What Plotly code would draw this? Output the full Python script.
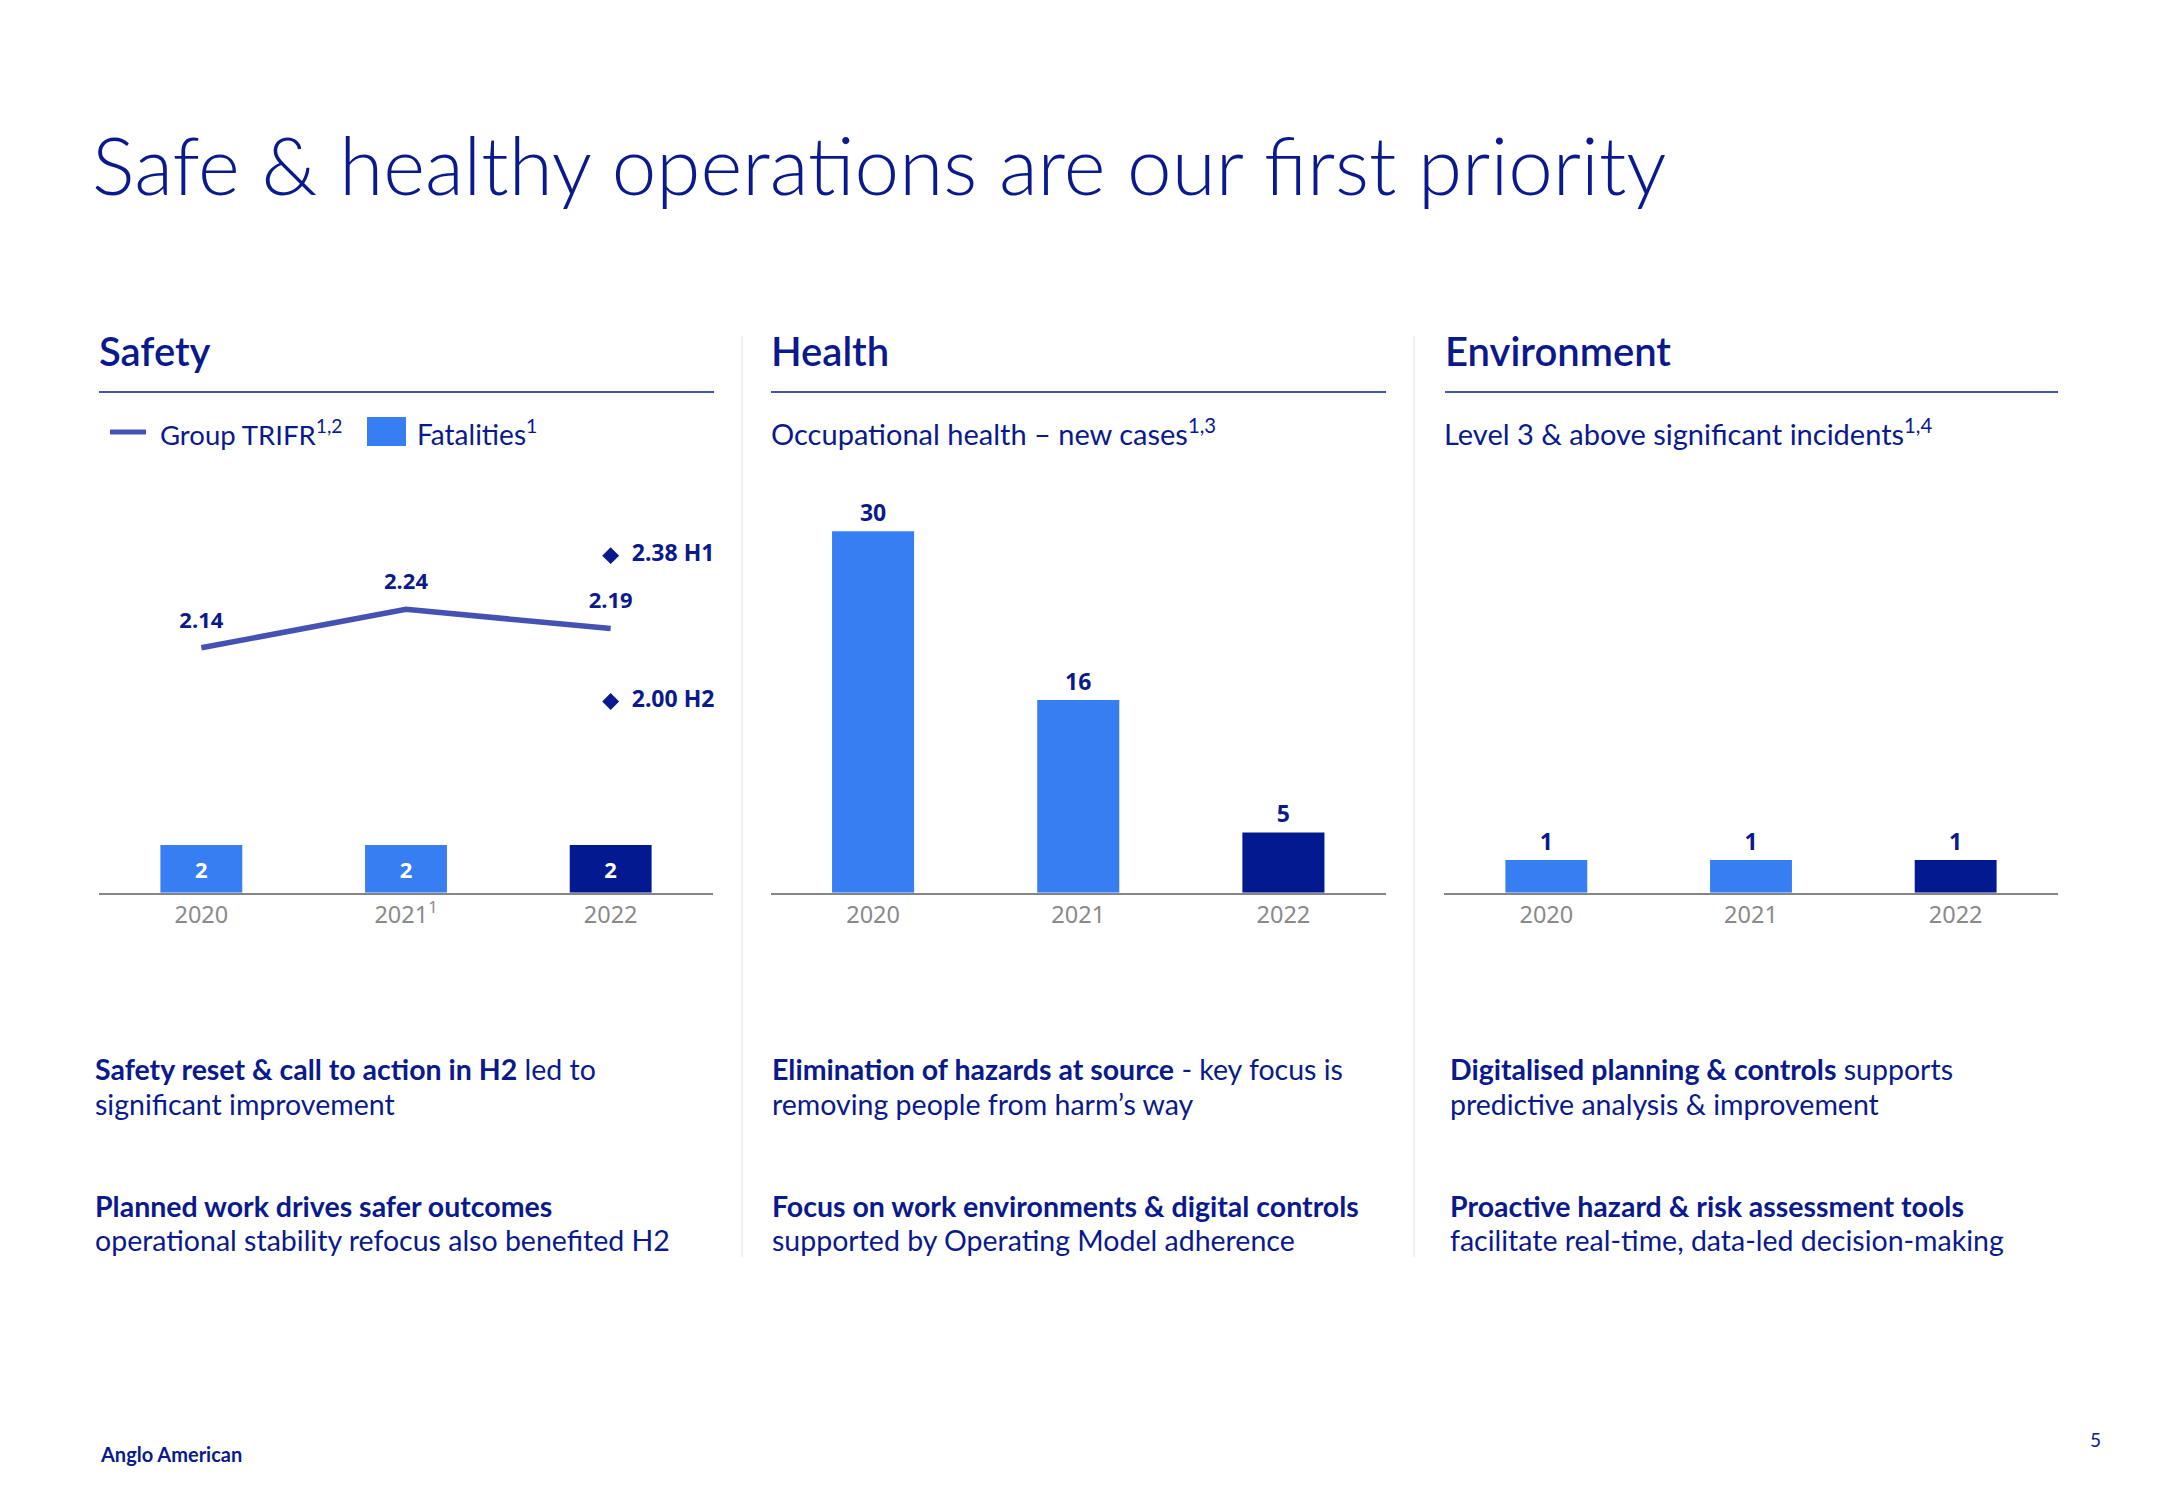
import plotly.graph_objects as go

# ---------------- data ----------------
years = ["2020", "2021", "2022"]
year_ticklabels_safety = ["2020", "2021<sup>1</sup>", "2022"]
year_ticklabels = ["2020", "2021", "2022"]

fatalities = [2, 2, 2]
trifr = [2.14, 2.24, 2.19]
trifr_half_year = [2.38, 2.00]
trifr_half_labels = ["H1", "H2"]
trifr_half_year_cat = ["2022", "2022"]

health_cases = [30, 16, 5]
env_incidents = [1, 1, 1]

# ---------------- styles ----------------
W, H = 2166, 1500
NAVY = "#0a1a8c"
LIGHT = "#367ef2"
DARK = "#02198f"
LINEC = "#4552b3"
GRAY = "#858585"
bar_colors = [LIGHT, LIGHT, DARK]
BODY_FONT = "Lato"
NUM_FONT = "Noto Sans"


def px(x):
    return x / W


def py(y):
    return 1 - y / H


fig = go.Figure()

# Safety: fatalities bars
fig.add_trace(go.Bar(
    x=years, y=fatalities, marker_color=bar_colors, marker_line_width=0,
    text=fatalities, textposition="inside", insidetextanchor="middle",
    textfont=dict(family=NUM_FONT, size=22, color="white", weight="bold"),
    xaxis="x", yaxis="y", hoverinfo="skip",
))
# Safety: TRIFR line
fig.add_trace(go.Scatter(
    x=years, y=trifr, mode="lines+markers+text", line=dict(color=LINEC, width=5.5),
    marker=dict(size=22, color="rgba(0,0,0,0)"),
    texttemplate="%{y:.2f}", textposition="top center",
    textfont=dict(family=NUM_FONT, size=22, color=NAVY, weight="bold"),
    xaxis="x", yaxis="y2", cliponaxis=False, hoverinfo="skip",
))
# Safety: H1/H2 diamonds
fig.add_trace(go.Scatter(
    x=trifr_half_year_cat, y=trifr_half_year, mode="markers+text",
    marker=dict(symbol="diamond", size=13, color=NAVY),
    customdata=trifr_half_labels, texttemplate="  %{y:.2f} %{customdata}",
    textposition="middle right",
    textfont=dict(family=NUM_FONT, size=23, color=NAVY, weight="bold"),
    xaxis="x", yaxis="y2", cliponaxis=False, hoverinfo="skip",
))
# Health bars
fig.add_trace(go.Bar(
    x=years, y=health_cases, marker_color=bar_colors, marker_line_width=0,
    text=health_cases, textposition="outside",
    textfont=dict(family=NUM_FONT, size=23, color=NAVY, weight="bold"),
    xaxis="x2", yaxis="y3", cliponaxis=False, hoverinfo="skip",
))
# Environment bars
fig.add_trace(go.Bar(
    x=years, y=env_incidents, marker_color=bar_colors, marker_line_width=0,
    text=env_incidents, textposition="outside",
    textfont=dict(family=NUM_FONT, size=23, color=NAVY, weight="bold"),
    xaxis="x3", yaxis="y4", cliponaxis=False, hoverinfo="skip",
))

ydom = [py(892.7), py(480)]


def xax(dom, ticktext, anchor):
    return dict(
        domain=dom, anchor=anchor, type="category", categoryarray=years,
        range=[-0.5, 2.5], showline=True, linecolor=GRAY, linewidth=2,
        ticks="", tickvals=years, ticktext=ticktext, showgrid=False,
        zeroline=False, fixedrange=True,
        tickfont=dict(family=NUM_FONT, size=23.5, color="#8a8a8a"),
    )


def yax(rng, anchor, **kw):
    d = dict(domain=ydom, range=rng, visible=False, anchor=anchor,
             showgrid=False, zeroline=False, fixedrange=True)
    d.update(kw)
    return d


fig.update_layout(
    width=W, height=H, margin=dict(l=0, r=0, t=0, b=0),
    paper_bgcolor="white", plot_bgcolor="white", showlegend=False,
    bargap=0.6,
    xaxis=xax([px(99), px(713)], year_ticklabels_safety, "y"),
    xaxis2=xax([px(770.5), px(1386)], year_ticklabels, "y3"),
    xaxis3=xax([px(1444), px(2058)], year_ticklabels, "y4"),
    yaxis=yax([0, 17.3], "x"),
    yaxis2=yax([1.502, 2.577], "x", overlaying="y"),
    yaxis3=yax([0, 34.25], "x2"),
    yaxis4=yax([0, 12.62], "x3"),
)

shapes = []
# header rules
for x0, x1 in [(99, 714), (771, 1386), (1445, 2058)]:
    shapes.append(dict(type="line", xref="paper", yref="paper",
                       x0=px(x0), x1=px(x1), y0=py(392), y1=py(392),
                       line=dict(color=NAVY, width=1.5)))
# vertical separators
for x in [742, 1414]:
    shapes.append(dict(type="line", xref="paper", yref="paper",
                       x0=px(x), x1=px(x), y0=py(336), y1=py(1257),
                       line=dict(color="#e2e2e2", width=1)))
# legend symbols
shapes.append(dict(type="line", xref="paper", yref="paper",
                   x0=px(110), x1=px(146), y0=py(432), y1=py(432),
                   line=dict(color=LINEC, width=5)))
shapes.append(dict(type="rect", xref="paper", yref="paper",
                   x0=px(367), x1=px(406), y0=py(446), y1=py(417),
                   fillcolor=LIGHT, line=dict(width=0)))
fig.update_layout(shapes=shapes)


def ann(text, x, y, size, weight=400, color=NAVY, family=BODY_FONT,
        xanchor="left"):
    fig.add_annotation(text=text, x=px(x), y=py(y), xref="paper", yref="paper",
                       xanchor=xanchor, yanchor="middle", showarrow=False,
                       font=dict(family=family, size=size, color=color,
                                 weight=weight))


ann("Safe & healthy operations are our first priority", 90, 164, 80, weight=300)
ann("Safety", 97, 351, 40, weight=600)
ann("Health", 769, 351, 40, weight=600)
ann("Environment", 1443, 351, 40, weight=600)

ann("Group TRIFR<sup>1,2</sup>", 158, 432, 27.5)
ann("Fatalities<sup>1</sup>", 415, 432, 28)
ann("Occupational health – new cases<sup>1,3</sup>", 769, 432, 29)
ann("Level 3 & above significant incidents<sup>1,4</sup>", 1442, 432, 29)

body = [
    (93, ["<b>Safety reset & call to action in H2</b> led to",
          "significant improvement",
          "<b>Planned work drives safer outcomes</b>",
          "operational stability refocus also benefited H2"]),
    (770, ["<b>Elimination of hazards at source</b> - key focus is",
           "removing people from harm’s way",
           "<b>Focus on work environments & digital controls</b>",
           "supported by Operating Model adherence"]),
    (1448, ["<b>Digitalised planning & controls</b> supports",
            "predictive analysis & improvement",
            "<b>Proactive hazard & risk assessment tools</b>",
            "facilitate real-time, data-led decision-making"]),
]
for x, lines in body:
    for yy, t in zip([1069, 1104, 1206, 1240], lines):
        ann(t, x, yy, 28.5)

ann("<b>Anglo American</b>", 98, 1454, 20)
ann("5", 2095, 1439, 19, xanchor="center")

fig.write_html("out.html",
               config={"displayModeBar": False},
               post_script="document.body.style.margin='0px';"
                           "document.body.style.overflow='hidden';")
